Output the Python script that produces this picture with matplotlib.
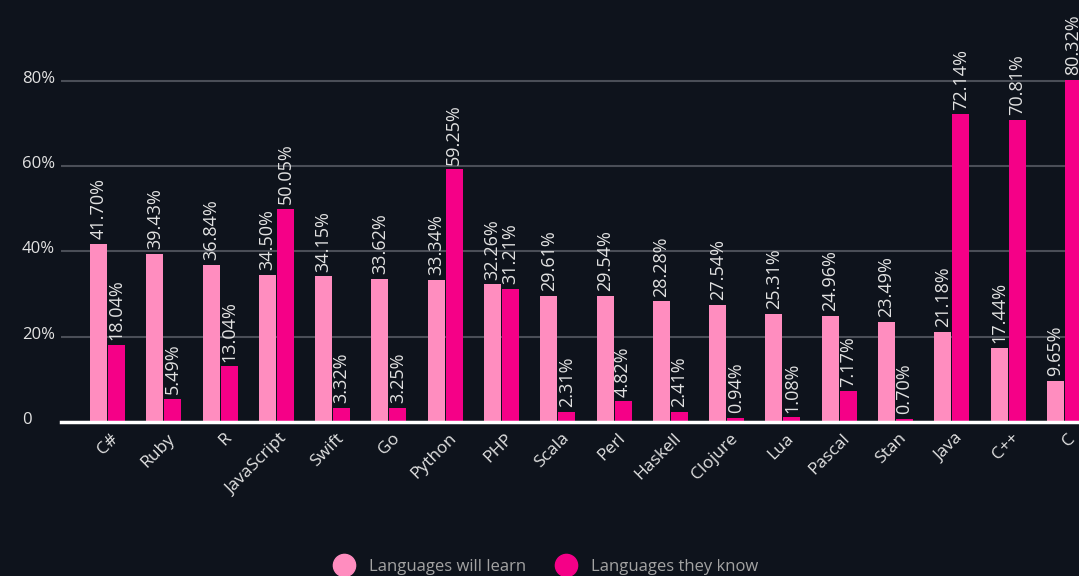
import matplotlib.pyplot as plt
from matplotlib.lines import Line2D
from matplotlib.transforms import offset_copy
import numpy as np

languages = ['C#', 'Ruby', 'R', 'JavaScript', 'Swift', 'Go', 'Python', 'PHP', 'Scala',
             'Perl', 'Haskell', 'Clojure', 'Lua', 'Pascal', 'Stan', 'Java', 'C++', 'C']
will_learn = [41.70, 39.43, 36.84, 34.50, 34.15, 33.62, 33.34, 32.26, 29.61,
              29.54, 28.28, 27.54, 25.31, 24.96, 23.49, 21.18, 17.44, 9.65]
they_know = [18.04, 5.49, 13.04, 50.05, 3.32, 3.25, 59.25, 31.21, 2.31,
             4.82, 2.41, 0.94, 1.08, 7.17, 0.70, 72.14, 70.81, 80.32]
yticks = [0, 20, 40, 60, 80]
ytick_labels = ['0', '20%', '40%', '60%', '80%']

BG = '#0e131c'
PINK = '#ff8dbf'
MAGENTA = '#f50087'
TXT = '#e2e2e2'

plt.rcParams['font.family'] = ['Open Sans', 'DejaVu Sans']

W, H = 1079, 576
fig = plt.figure(figsize=(W / 100, H / 100), dpi=100, facecolor=BG)
ax = fig.add_axes([61 / W, (H - 422) / H, (W - 61) / W, 422 / H])
ax.set_facecolor(BG)

x = np.arange(len(languages))
bw = 0.30
b1 = ax.bar(x - bw / 2 - 0.01, will_learn, bw, color=PINK, zorder=3)
b2 = ax.bar(x + bw / 2 + 0.01, they_know, bw, color=MAGENTA, zorder=3)

# value labels above each bar
for bars, vals in ((b1, will_learn), (b2, they_know)):
    for r, v in zip(bars, vals):
        ax.annotate(f'{v:.2f}%', (r.get_x() + r.get_width() / 2, v),
                    xytext=(0, 3.5), textcoords='offset points', rotation=90,
                    ha='center', va='bottom', color=TXT, fontsize=13,
                    annotation_clip=False)

ax.set_xlim(-0.826, 17.26)
ax.set_ylim(0, 99)
ax.set_yticks(yticks)
ax.set_yticklabels(ytick_labels)
ax.yaxis.grid(True, color='#4a4e57', linewidth=1.5, zorder=0)
ax.tick_params(axis='y', length=0, pad=28, labelsize=12, labelcolor=TXT)
for lbl in ax.get_yticklabels():
    lbl.set_horizontalalignment('left')
    lbl.set_verticalalignment('baseline')
    lbl.set_transform(offset_copy(lbl.get_transform(), fig=fig, x=0, y=-2, units='dots'))

ax.set_xticks(x)
ax.set_xticklabels(languages, rotation=45, ha='right', rotation_mode='anchor')
ax.tick_params(axis='x', length=0, pad=6, labelsize=12.5, labelcolor=TXT)
for lbl in ax.get_xticklabels():
    lbl.set_transform(offset_copy(lbl.get_transform(), fig=fig, x=3, y=0, units='dots'))

for s in ['top', 'right', 'left']:
    ax.spines[s].set_visible(False)
ax.spines['bottom'].set_color('white')
ax.spines['bottom'].set_linewidth(2.5)
ax.spines['bottom'].set_zorder(4)

handles = [Line2D([], [], marker='o', linestyle='', markersize=16, color=PINK),
           Line2D([], [], marker='o', linestyle='', markersize=16, color=MAGENTA)]
fig.legend(handles, ['Languages will learn', 'Languages they know'],
           loc='center', bbox_to_anchor=(0.503, 1 - 567 / H), ncol=2, frameon=False,
           fontsize=12, labelcolor='#a3a3a3', handletextpad=0.5, columnspacing=1.4)

fig.savefig('out.png', dpi=100, facecolor=BG)
